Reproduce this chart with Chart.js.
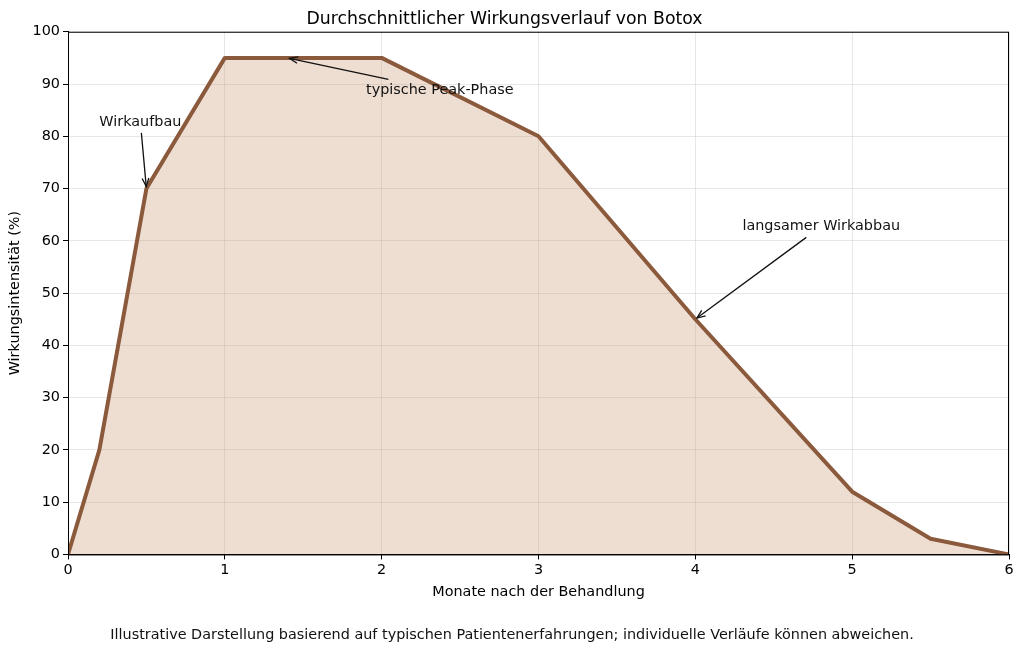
<!DOCTYPE html>
<html>
<head>
<meta charset="utf-8">
<script src="https://cdn.jsdelivr.net/npm/chart.js@4"></script>
<style>
    html, body { margin: 0; padding: 0; background: #fff; }
    #wrap { width: 1024px; height: 653px; }
</style>
</head>
<body>
<div id="wrap"><canvas id="chart" width="1024" height="653"></canvas></div>
<script>
// ─── Data ─────────────────────────────────────────────

const months    = [0, 0.2, 0.5, 1, 2, 3, 4, 5, 5.5, 6];
const intensity = [0, 20, 70, 95, 95, 80, 45, 12, 3, 0];

const noteLabels  = ['Wirkaufbau', 'typische Peak-Phase', 'langsamer Wirkabbau'];
const noteTargetX = [0.5, 1.4, 4];
const noteTargetY = [70, 95, 45];
const noteTextX   = [0.2, 1.9, 4.3];
const noteTextY   = [82, 88, 62];

const TITLE  = 'Durchschnittlicher Wirkungsverlauf von Botox';
const FOOTER = 'Illustrative Darstellung basierend auf typischen Patientenerfahrungen; individuelle Verläufe können abweichen.';

const FONT = "'DejaVu Sans', sans-serif";
const FS   = 14.4;

// ─── Annotation / frame plugin ────────────────────────

function clipToBox(cx, cy, tx, ty, box) {
    // point where segment center -> target leaves the box
    const dx = tx - cx, dy = ty - cy;
    let t = 1;
    if (dx) t = Math.min(t, ((dx > 0 ? box.r : box.l) - cx) / dx);
    if (dy) t = Math.min(t, ((dy > 0 ? box.b : box.t) - cy) / dy);
    return [cx + dx * t, cy + dy * t];
}

const notesPlugin = {
    id: 'notes',
    afterDatasetsDraw(chart) {
        const { ctx, chartArea, scales: { x, y } } = chart;

        // frame (all four spines)
        ctx.save();
        ctx.strokeStyle = '#000';
        ctx.lineWidth = 1;
        ctx.strokeRect(chartArea.left + 0.5, chartArea.top + 0.5,
                       chartArea.right - chartArea.left - 1, chartArea.bottom - chartArea.top);

        ctx.font = `${FS}px ${FONT}`;
        ctx.fillStyle = '#111';
        ctx.textAlign = 'left';
        ctx.textBaseline = 'alphabetic';

        noteLabels.forEach((label, i) => {
            const tx = x.getPixelForValue(noteTextX[i]);
            const ty = y.getPixelForValue(noteTextY[i]);
            ctx.fillText(label, tx, ty);

            const w = ctx.measureText(label).width;
            const pad = 4;
            const box = { l: tx - pad, r: tx + w + pad, t: ty - 11 - pad, b: ty + 3 + pad };
            const cx = (box.l + box.r) / 2, cy = (box.t + box.b) / 2;
            const px = x.getPixelForValue(noteTargetX[i]);
            const py = y.getPixelForValue(noteTargetY[i]);
            const [sx, sy] = clipToBox(cx, cy, px, py, box);

            const ang = Math.atan2(py - sy, px - sx);
            const ex = px - Math.cos(ang) * 2, ey = py - Math.sin(ang) * 2;

            ctx.strokeStyle = '#111';
            ctx.lineWidth = 1.3;
            ctx.beginPath();
            ctx.moveTo(sx, sy);
            ctx.lineTo(ex, ey);
            ctx.stroke();

            const head = 9, spread = 0.38;
            ctx.beginPath();
            ctx.moveTo(ex - head * Math.cos(ang - spread), ey - head * Math.sin(ang - spread));
            ctx.lineTo(ex, ey);
            ctx.lineTo(ex - head * Math.cos(ang + spread), ey - head * Math.sin(ang + spread));
            ctx.stroke();
        });

        // footer note
        ctx.font = `${FS}px ${FONT}`;
        ctx.textAlign = 'center';
        ctx.textBaseline = 'middle';
        ctx.fillText(FOOTER, chart.width / 2, chart.height - 18);
        ctx.restore();
    },
};

// ─── Chart ────────────────────────────────────────────

new Chart(document.getElementById('chart').getContext('2d'), {
    type: 'line',
    data: {
        datasets: [{
            data: months.map((m, i) => ({ x: m, y: intensity[i] })),
            borderColor: '#8b5a3c',
            borderWidth: 4,
            borderJoinStyle: 'round',
            backgroundColor: 'rgba(205,160,125,0.35)',
            fill: 'origin',
            pointRadius: 0,
            tension: 0,
        }],
    },
    options: {
        responsive: false,
        animation: false,
        layout: { padding: { left: 0, right: 15, top: 0, bottom: 52 } },
        plugins: {
            legend: { display: false },
            tooltip: { enabled: false },
            title: {
                display: true,
                text: TITLE,
                color: '#000',
                font: { family: FONT, size: 17.3, weight: 'normal' },
                padding: { top: 9, bottom: 2 },
            },
        },
        scales: {
            x: {
                type: 'linear',
                min: 0,
                max: 6,
                ticks: { stepSize: 1, color: '#000', font: { family: FONT, size: FS }, padding: 2 },
                grid: { color: 'rgba(176,176,176,0.3)', tickColor: '#000', tickLength: 5 },
                border: { color: '#000' },
                title: {
                    display: true,
                    text: 'Monate nach der Behandlung',
                    color: '#000',
                    font: { family: FONT, size: FS },
                    padding: { top: 3, bottom: 0 },
                },
            },
            y: {
                min: 0,
                max: 100,
                ticks: { stepSize: 10, color: '#000', font: { family: FONT, size: FS }, padding: 3 },
                grid: { color: 'rgba(176,176,176,0.3)', tickColor: '#000', tickLength: 5 },
                border: { color: '#000' },
                title: {
                    display: true,
                    text: 'Wirkungsintensität (%)',
                    color: '#000',
                    font: { family: FONT, size: FS },
                    padding: { top: 7, bottom: 0 },
                },
                afterFit(scale) { scale.width = 68; },
            },
        },
    },
    plugins: [notesPlugin],
});
</script>
</body>
</html>
